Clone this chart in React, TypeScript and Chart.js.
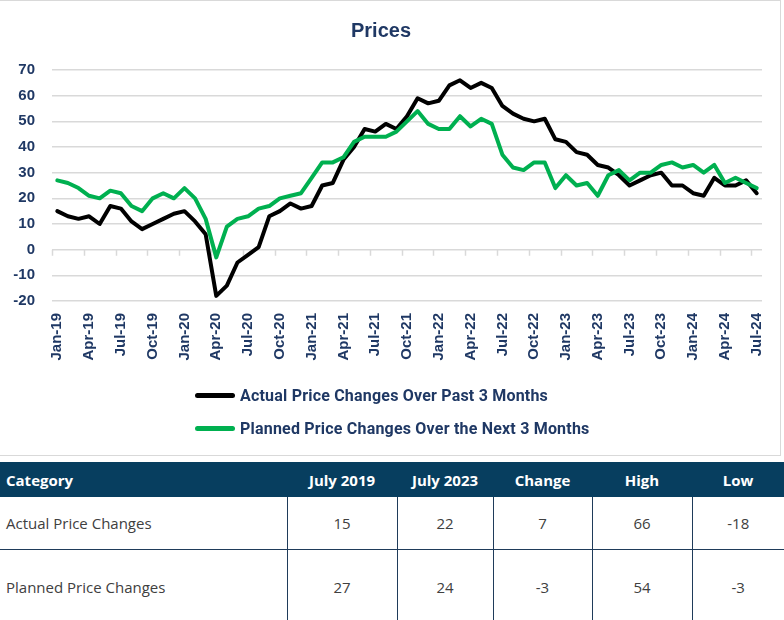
import React, { useEffect, useRef } from 'react';
import { Chart, registerables } from 'chart.js';

Chart.register(...registerables);

const categories = [
  'Jan-19', 'Feb-19', 'Mar-19', 'Apr-19', 'May-19', 'Jun-19', 'Jul-19', 'Aug-19', 'Sep-19', 'Oct-19', 'Nov-19', 'Dec-19',
  'Jan-20', 'Feb-20', 'Mar-20', 'Apr-20', 'May-20', 'Jun-20', 'Jul-20', 'Aug-20', 'Sep-20', 'Oct-20', 'Nov-20', 'Dec-20',
  'Jan-21', 'Feb-21', 'Mar-21', 'Apr-21', 'May-21', 'Jun-21', 'Jul-21', 'Aug-21', 'Sep-21', 'Oct-21', 'Nov-21', 'Dec-21',
  'Jan-22', 'Feb-22', 'Mar-22', 'Apr-22', 'May-22', 'Jun-22', 'Jul-22', 'Aug-22', 'Sep-22', 'Oct-22', 'Nov-22', 'Dec-22',
  'Jan-23', 'Feb-23', 'Mar-23', 'Apr-23', 'May-23', 'Jun-23', 'Jul-23', 'Aug-23', 'Sep-23', 'Oct-23', 'Nov-23', 'Dec-23',
  'Jan-24', 'Feb-24', 'Mar-24', 'Apr-24', 'May-24', 'Jun-24', 'Jul-24',
];

const actualPriceChanges = [
  15, 13, 12, 13, 10, 17, 16, 11, 8, 10, 12, 14,
  15, 11, 6, -18, -14, -5, -2, 1, 13, 15, 18, 16,
  17, 25, 26, 35, 40, 47, 46, 49, 47, 52, 59, 57,
  58, 64, 66, 63, 65, 63, 56, 53, 51, 50, 51, 43,
  42, 38, 37, 33, 32, 29, 25, 27, 29, 30, 25, 25,
  22, 21, 28, 25, 25, 27, 22,
];

const plannedPriceChanges = [
  27, 26, 24, 21, 20, 23, 22, 17, 15, 20, 22, 20,
  24, 20, 12, -3, 9, 12, 13, 16, 17, 20, 21, 22,
  28, 34, 34, 36, 42, 44, 44, 44, 46, 50, 54, 49,
  47, 47, 52, 48, 51, 49, 37, 32, 31, 34, 34, 24,
  29, 25, 26, 21, 29, 31, 27, 30, 30, 33, 34, 32,
  33, 30, 33, 26, 28, 26, 24,
];

const seriesNames = [
  'Actual Price Changes Over Past 3 Months',
  'Planned Price Changes Over the Next 3 Months',
];
const seriesColors = ['#000000', '#00B050'];

const tableHeaders = ['Category', 'July 2019', 'July 2023', 'Change', 'High', 'Low'];
const tableRowNames = ['Actual Price Changes', 'Planned Price Changes'];
const tableValues = [
  [15, 22, 7, 66, -18],
  [27, 24, -3, 54, -3],
];

const NAVY = '#1F3864';
const GRID = '#D9D9D9';
const AXIS_FONT = "'Liberation Sans', Arial, sans-serif";
const NARROW_FONT = "Roboto, 'Liberation Sans', sans-serif";
const TABLE_FONT = "'Open Sans', 'Noto Sans', sans-serif";

const zeroTicks = {
  id: 'zeroTicks',
  beforeDatasetsDraw(chart: any) {
    const xs = chart.scales.x;
    const ys = chart.scales.y;
    const ctx = chart.ctx;
    const y0 = ys.getPixelForValue(0);
    const half = (xs.getPixelForValue(1) - xs.getPixelForValue(0)) / 2;
    ctx.save();
    ctx.strokeStyle = GRID;
    ctx.lineWidth = 1.5;
    ctx.beginPath();
    for (let i = 0; i <= categories.length; i += 3) {
      const px = Math.round(xs.getPixelForValue(i) - half) + 0.5;
      ctx.moveTo(px, y0);
      ctx.lineTo(px, y0 + 6);
    }
    ctx.stroke();
    ctx.restore();
  },
};

function PriceChart() {
  const ref = useRef<HTMLCanvasElement | null>(null);
  useEffect(() => {
    if (!ref.current) return;
    const chart = new Chart(ref.current, {
      type: 'line',
      data: {
        labels: categories,
        datasets: [
          {
            label: seriesNames[0],
            data: actualPriceChanges,
            borderColor: seriesColors[0],
            backgroundColor: seriesColors[0],
            borderWidth: 4,
            pointRadius: 0,
            tension: 0,
            borderJoinStyle: 'round',
            borderCapStyle: 'round',
            order: 1,
          },
          {
            label: seriesNames[1],
            data: plannedPriceChanges,
            borderColor: seriesColors[1],
            backgroundColor: seriesColors[1],
            borderWidth: 4,
            pointRadius: 0,
            tension: 0,
            borderJoinStyle: 'round',
            borderCapStyle: 'round',
            order: 0,
          },
        ],
      },
      options: {
        animation: false,
        responsive: true,
        maintainAspectRatio: false,
        layout: { padding: { left: 0, right: 18, top: 0, bottom: 94 } },
        plugins: {
          legend: { display: false },
          tooltip: { enabled: false },
          title: {
            display: true,
            text: 'Prices',
            color: NAVY,
            font: { family: AXIS_FONT, size: 20, weight: 'bold' },
            padding: { top: 18, bottom: 27 },
          },
        },
        scales: {
          x: {
            type: 'category',
            offset: true,
            grid: { display: false },
            border: { display: false },
            ticks: {
              autoSkip: false,
              maxRotation: 90,
              minRotation: 90,
              padding: 4,
              color: NAVY,
              font: { family: AXIS_FONT, size: 15, weight: 'bold' },
              callback: function (this: any, value: any, index: number) {
                return index % 3 === 0 ? this.getLabelForValue(value) : '';
              },
            },
            afterFit(scale: any) {
              scale.height = 60;
            },
          },
          y: {
            min: -20,
            max: 70,
            ticks: {
              stepSize: 10,
              padding: 17,
              color: NAVY,
              font: { family: AXIS_FONT, size: 15, weight: 'bold' },
            },
            grid: { color: GRID, lineWidth: 1.5, drawTicks: false },
            border: { display: false },
            afterFit(scale: any) {
              scale.width = 52;
            },
          },
        },
      } as any,
      plugins: [zeroTicks],
    });
    return () => chart.destroy();
  }, []);

  return (
    <div
      style={{
        position: 'relative',
        width: 780,
        height: 454,
        borderTop: `1px solid ${GRID}`,
        borderRight: `1px solid ${GRID}`,
        borderBottom: `1px solid ${GRID}`,
      }}
    >
      <canvas ref={ref} />
      <div style={{ position: 'absolute', left: 195, top: 384 }}>
        {seriesNames.map((name, i) => (
          <div
            key={name}
            style={{
              display: 'flex',
              alignItems: 'center',
              height: 20,
              marginBottom: 13,
            }}
          >
            <span
              style={{
                display: 'inline-block',
                width: 40,
                height: 5,
                borderRadius: 3,
                background: seriesColors[i],
                marginRight: 5,
              }}
            />
            <span
              style={{
                fontFamily: NARROW_FONT,
                fontWeight: 'bold',
                fontSize: 16,
                letterSpacing: '0.2px',
                color: NAVY,
                whiteSpace: 'nowrap',
              }}
            >
              {name}
            </span>
          </div>
        ))}
      </div>
    </div>
  );
}

function SummaryTable() {
  const colWidths = [287, 110, 96, 99, 100, 92];
  const rowHeights = [52, 76];
  const lineColor = '#1F3B5A';
  return (
    <table
      style={{
        marginTop: 6,
        width: 784,
        borderCollapse: 'collapse',
        tableLayout: 'fixed',
        fontFamily: TABLE_FONT,
      }}
    >
      <colgroup>
        {colWidths.map((w, i) => (
          <col key={i} style={{ width: w }} />
        ))}
      </colgroup>
      <thead>
        <tr style={{ height: 35, background: '#073E5F' }}>
          {tableHeaders.map((h, i) => (
            <th
              key={h}
              style={{
                color: '#FFFFFF',
                fontWeight: 'bold',
                fontSize: 15,
                textAlign: i === 0 ? 'left' : 'center',
                padding: i === 0 ? '0 0 0 6px' : 0,
              }}
            >
              {h}
            </th>
          ))}
        </tr>
      </thead>
      <tbody>
        {tableRowNames.map((name, r) => (
          <tr key={name} style={{ height: rowHeights[r] }}>
            <td
              style={{
                fontSize: 15,
                color: '#404040',
                padding: '0 0 0 6px',
                borderBottom: r === 0 ? `1px solid ${lineColor}` : 'none',
              }}
            >
              {name}
            </td>
            {tableValues[r].map((v, c) => (
              <td
                key={c}
                style={{
                  fontSize: 15,
                  color: '#404040',
                  textAlign: 'center',
                  borderLeft: `1px solid ${lineColor}`,
                  borderBottom: r === 0 ? `1px solid ${lineColor}` : 'none',
                }}
              >
                {v}
              </td>
            ))}
          </tr>
        ))}
      </tbody>
    </table>
  );
}

export default function App() {
  useEffect(() => {
    document.body.style.margin = '0';
  }, []);
  return (
    <div style={{ width: 784, background: '#FFFFFF' }}>
      <PriceChart />
      <SummaryTable />
    </div>
  );
}
